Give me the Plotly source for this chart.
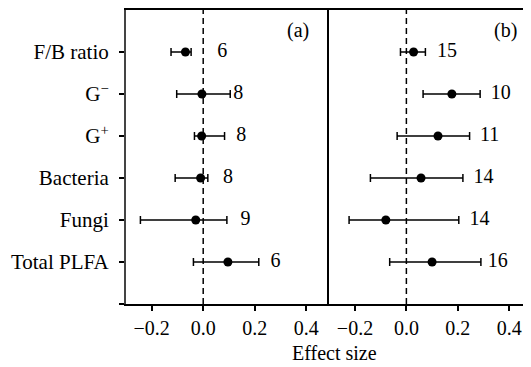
import plotly.graph_objects as go

# ---- data ----
categories = ["", "Total PLFA", "Fungi", "Bacteria", "G<sup>+</sup>", "G<sup>−</sup>", "F/B ratio"]
y_pos = [1, 2, 3, 4, 5, 6]

a_est = [0.096, -0.029, -0.010, -0.006, -0.005, -0.069]
a_lo = [-0.038, -0.244, -0.109, -0.034, -0.103, -0.125]
a_hi = [0.216, 0.092, 0.018, 0.083, 0.105, -0.047]
a_n = [6, 9, 8, 8, 8, 6]
a_nx = [0.281, 0.164, 0.096, 0.148, 0.136, 0.074]

b_est = [0.100, -0.080, 0.057, 0.123, 0.177, 0.028]
b_lo = [-0.065, -0.223, -0.140, -0.036, 0.065, -0.023]
b_hi = [0.290, 0.204, 0.220, 0.246, 0.287, 0.074]
b_n = [16, 14, 14, 11, 10, 15]
b_nx = [0.356, 0.285, 0.300, 0.324, 0.367, 0.158]

x_ticks = [-0.2, 0.0, 0.2, 0.4]
panel_labels = ["(a)", "(b)"]

FONT = "Liberation Serif, Times New Roman, serif"
FS = 20

fig = go.Figure()


def add_panel(est, lo, hi, n, nx, xa, ya):
    plus = [h - e for h, e in zip(hi, est)]
    minus = [e - l for e, l in zip(est, lo)]
    fig.add_trace(go.Scatter(
        x=est, y=y_pos, mode="markers", xaxis=xa, yaxis=ya,
        marker=dict(color="black", size=9),
        error_x=dict(type="data", array=plus, arrayminus=minus, symmetric=False,
                     color="black", thickness=1.5, width=4),
        showlegend=False, hoverinfo="skip"))
    fig.add_trace(go.Scatter(
        x=nx, y=y_pos, mode="text", text=[str(v) for v in n], xaxis=xa, yaxis=ya,
        textposition="middle center", textfont=dict(family=FONT, size=FS, color="black"),
        showlegend=False, hoverinfo="skip"))


add_panel(a_est, a_lo, a_hi, a_n, a_nx, "x", "y")
add_panel(b_est, b_lo, b_hi, b_n, b_nx, "x2", "y2")

xcommon = dict(showline=True, mirror=True, linecolor="black", linewidth=1.5,
               ticks="outside", ticklen=5, tickwidth=1.5, tickcolor="black",
               tickvals=x_ticks, tickformat=".1f", showgrid=False, zeroline=False,
               tickfont=dict(family=FONT, size=FS, color="black"))

split = 203.3 / 405.0
fig.update_layout(
    width=523, height=359,
    margin=dict(l=118, r=0, t=2, b=63),
    paper_bgcolor="white", plot_bgcolor="white",
    font=dict(family=FONT, size=FS, color="black"),
    xaxis=dict(domain=[0, split], range=[-0.3, 0.49], anchor="y", **xcommon),
    xaxis2=dict(domain=[split, 1], range=[-0.3, 0.485], anchor="y2", **xcommon),
    yaxis=dict(range=[0, 7], tickvals=[0, 1, 2, 3, 4, 5, 6], ticktext=categories,
               showline=True, linecolor="#444", linewidth=2,
               ticks="outside", ticklen=5, tickwidth=1.5, tickcolor="black",
               showgrid=False, zeroline=False, anchor="x", ticklabelstandoff=6,
               tickfont=dict(family=FONT, size=21, color="black")),
    yaxis2=dict(range=[0, 7], showline=True, linecolor="black", linewidth=1.5,
                showticklabels=False, ticks="", showgrid=False, zeroline=False,
                anchor="x2"),
    shapes=[
        dict(type="line", xref="x", yref="y", x0=0, x1=0, y0=0, y1=7,
             line=dict(color="black", width=1.5, dash="6px,4px")),
        dict(type="line", xref="x2", yref="y2", x0=0, x1=0, y0=0, y1=7,
             line=dict(color="black", width=1.5, dash="6px,4px")),
    ],
    annotations=[
        dict(text=panel_labels[0], xref="x", yref="y", x=0.369, y=6.51,
             showarrow=False, font=dict(family=FONT, size=FS, color="black")),
        dict(text=panel_labels[1], xref="x2", yref="y2", x=0.386, y=6.51,
             showarrow=False, font=dict(family=FONT, size=FS, color="black")),
        dict(text="Effect size", xref="paper", yref="paper", x=0.516, y=-0.165,
             yanchor="middle", showarrow=False,
             font=dict(family=FONT, size=FS, color="black")),
    ],
)

fig.write_html("out.html")
